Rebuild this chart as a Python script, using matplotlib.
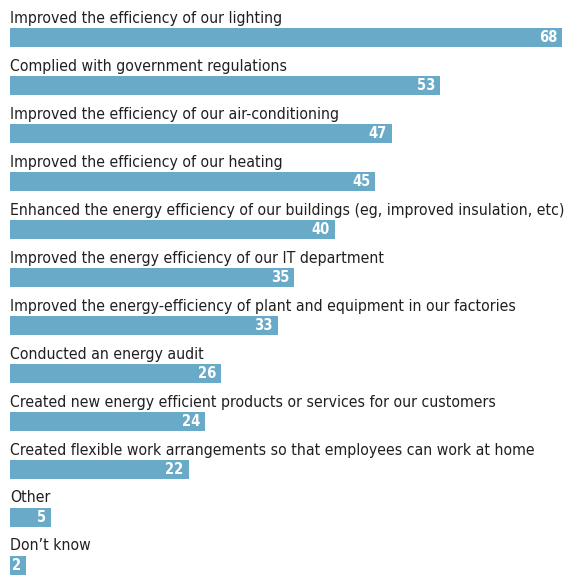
import matplotlib.pyplot as plt
from matplotlib import font_manager

labels = [
    "Improved the efficiency of our lighting",
    "Complied with government regulations",
    "Improved the efficiency of our air-conditioning",
    "Improved the efficiency of our heating",
    "Enhanced the energy efficiency of our buildings (eg, improved insulation, etc)",
    "Improved the energy efficiency of our IT department",
    "Improved the energy-efficiency of plant and equipment in our factories",
    "Conducted an energy audit",
    "Created new energy efficient products or services for our customers",
    "Created flexible work arrangements so that employees can work at home",
    "Other",
    "Don\u2019t know",
]
values = [68, 53, 47, 45, 40, 35, 33, 26, 24, 22, 5, 2]

bar_color = "#68aac8"
text_color = "#231f20"

# a narrow face suits these labels best, if one is around
names = {f.name for f in font_manager.fontManager.ttflist}
condensed = [f for f in font_manager.fontManager.ttflist
             if f.name == "DejaVu Sans" and "ondensed" in f.fname and "Bold" not in f.fname
             and "Oblique" not in f.fname]
if "Liberation Sans Narrow" in names:
    family, stretch, size = "Liberation Sans Narrow", "normal", 12.3
elif condensed:
    family, stretch, size = "DejaVu Sans", "condensed", 11.35
else:
    family, stretch, size = "DejaVu Sans", "normal", 10.2

W, H = 564, 575
fig = plt.figure(figsize=(W / 100, H / 100), dpi=100)
# axes in pixel-like units: x = value, y = pixel row from top
ax = fig.add_axes([10 / W, 0, 552 / W, 1])
ax.set_xlim(0, 68)
ax.set_ylim(H, 0)
ax.axis("off")

pitch = 48
bar_h = 19
for i, (lab, v) in enumerate(zip(labels, values)):
    center = 37.5 + pitch * i
    ax.barh(center, v, height=bar_h, color=bar_color, left=0)
    ax.text(0, center - 15, lab, ha="left", va="baseline",
            fontsize=size, fontstretch=stretch, color=text_color, family=family)
    ax.text(v - 0.6, center + 0.5, str(v), ha="right", va="center",
            fontsize=10.5, fontweight="bold", fontstretch=stretch,
            color="white", family=family)

fig.savefig("out.png", dpi=100)
